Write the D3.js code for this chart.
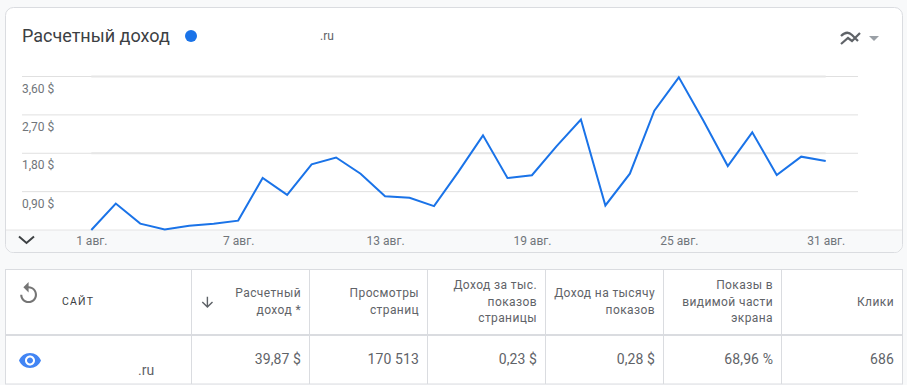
<!DOCTYPE html>
<html>
<head>
<meta charset="utf-8">
<script src="https://cdn.jsdelivr.net/npm/d3@7"></script>
<style>
  html, body { margin: 0; padding: 0; background: #f8f9fa; overflow: hidden; }
  svg { display: block; font-family: Roboto, sans-serif; }
</style>
</head>
<body>
<div id="app"></div>
<script>
'use strict'
// chart data
const days = d3.range(1, 32)
const revenue = [0, 0.62, 0.15, 0.01, 0.1, 0.145, 0.22, 1.22, 0.825, 1.54, 1.7, 1.32, 0.79, 0.755, 0.56, 1.37,
  2.22, 1.22, 1.285, 1.96, 2.59, 0.575, 1.32, 2.8, 3.58, 2.57, 1.5, 2.29, 1.29, 1.72, 1.62]
const yTicks = [0.9, 1.8, 2.7, 3.6]
const yTickLabels = ['0,90 $', '1,80 $', '2,70 $', '3,60 $']
const xTicks = [1, 7, 13, 19, 25, 31]

// table data
const columnEdges = [5.5, 191.5, 309.5, 427.5, 545.5, 663.5, 781.5, 902.5]
const headers = [
  ['Расчетный', 'доход *'],
  ['Просмотры', 'страниц'],
  ['Доход за тыс.', 'показов', 'страницы'],
  ['Доход на тысячу', 'показов'],
  ['Показы в', 'видимой части', 'экрана'],
  ['Клики']
]
const rowValues = ['39,87 $', '170 513', '0,23 $', '0,28 $', '68,96 %', '686']

const width = 907
const height = 385
const svg = d3.select('#app').append('svg')
  .attr('width', width)
  .attr('height', height)

// card
svg.append('rect')
  .attr('x', 5.5).attr('y', 7.5)
  .attr('width', 897).attr('height', 245)
  .attr('rx', 8)
  .attr('fill', '#fff')
  .attr('stroke', '#dadce0')

// strip under the plot, same grey as the page
svg.append('path')
  .attr('d', 'M6 230H902V244.5a7.5 7.5 0 0 1 -7.5 7.5H13.5a7.5 7.5 0 0 1 -7.5 -7.5Z')
  .attr('fill', '#f8f9fa')

svg.append('text')
  .attr('x', 22).attr('y', 42)
  .attr('font-size', 18)
  .attr('fill', '#3c4043')
  .text('Расчетный доход')
svg.append('circle')
  .attr('cx', 191).attr('cy', 36).attr('r', 6)
  .attr('fill', '#1a73e8')
svg.append('text')
  .attr('x', 320).attr('y', 40)
  .attr('font-size', 12)
  .attr('fill', '#5f6368')
  .text('.ru')

const x = d3.scaleLinear().domain([1, 31]).range([91.3, 825.7])
const y = d3.scaleLinear().domain([0, 3.6]).range([229.5, 76])

// y axis, labels sit under their gridline
const yAxis = svg.append('g')
  .attr('transform', 'translate(22,0)')
  .call(d3.axisRight(y).tickValues(yTicks).tickSize(836).tickFormat((d, i) => yTickLabels[i]))
yAxis.select('.domain').remove()
yAxis.selectAll('line').attr('stroke', '#e0e0e0')
yAxis.selectAll('text')
  .attr('x', 0).attr('dy', 16)
  .attr('font-family', 'Roboto, sans-serif')
  .attr('font-size', 12)
  .attr('fill', '#70757a')
  .style('text-anchor', 'start')

// heavier gridline segments inside the data range
yAxis.selectAll('.tick')
  .filter(d => d === 3.6 || d === 1.8)
  .append('line')
  .attr('x1', x(1) - 22).attr('x2', x(31) - 22)
  .attr('stroke', '#e6e6e6')
  .attr('stroke-width', 2)

// baseline and x axis
svg.append('line')
  .attr('x1', 6).attr('x2', 902)
  .attr('y1', 230).attr('y2', 230)
  .attr('stroke', '#e4e4e4')

const xAxis = svg.append('g')
  .attr('transform', 'translate(0,230)')
  .call(d3.axisBottom(x).tickValues(xTicks).tickSize(0).tickFormat(d => d + ' авг.'))
xAxis.select('.domain').remove()
xAxis.selectAll('text')
  .attr('y', 15).attr('dy', 0)
  .attr('font-family', 'Roboto, sans-serif')
  .attr('font-size', 12)
  .attr('fill', '#70757a')

const line = d3.line()
  .x((d, i) => x(days[i]))
  .y(d => y(d))
svg.append('path')
  .datum(revenue)
  .attr('d', line)
  .attr('transform', 'translate(0,0.5)')
  .attr('fill', 'none')
  .attr('stroke', '#1a73e8')
  .attr('stroke-width', 2)

// chevron under the plot
svg.append('path')
  .attr('d', 'M19 236.5L26.5 243L34 236.5')
  .attr('fill', 'none')
  .attr('stroke', '#3c4043')
  .attr('stroke-width', 2)

// chart type icon and caret
svg.append('path')
  .attr('d', 'M841 36C845 32 849 32 852 35L858 41M841 44L848 38L852 41L860 33')
  .attr('fill', 'none')
  .attr('stroke', '#5f6368')
  .attr('stroke-width', 2.2)
svg.append('path')
  .attr('d', 'M869 36H879L874 41Z')
  .attr('fill', '#9aa0a6')

// table
const table = svg.append('g')
table.append('rect')
  .attr('x', 5.5).attr('y', 269.5)
  .attr('width', 897).attr('height', 114.5)
  .attr('fill', '#fff')
  .attr('stroke', '#dadce0')
table.selectAll('line.col')
  .data(columnEdges.slice(1, -1))
  .enter().append('line')
  .attr('class', 'col')
  .attr('x1', d => d).attr('x2', d => d)
  .attr('y1', 269.5).attr('y2', 384)
  .attr('stroke', '#dadce0')
table.append('line')
  .attr('x1', 5.5).attr('x2', 902.5)
  .attr('y1', 335).attr('y2', 335)
  .attr('stroke', '#dadce0')
  .attr('stroke-width', 2)

table.append('text')
  .attr('x', 62).attr('y', 305)
  .attr('font-size', 10.5)
  .attr('font-weight', 400)
  .attr('letter-spacing', 1.2)
  .attr('fill', '#3c4043')
  .text('САЙТ')

const headerCells = table.selectAll('text.head')
  .data(headers)
  .enter().append('text')
  .attr('class', 'head')
  .attr('text-anchor', 'end')
  .attr('font-size', 12)
  .attr('letter-spacing', 0.4)
  .attr('fill', '#5f6368')
headerCells.selectAll('tspan')
  .data((d, i) => d.map((t, k) => ({ t, k, n: d.length, right: columnEdges[i + 2] - 8.5 })))
  .enter().append('tspan')
  .attr('x', d => d.right)
  .attr('y', d => 305.5 - (d.n - 1) * 8.25 + d.k * 16.5)
  .text(d => d.t)

table.selectAll('text.val')
  .data(rowValues)
  .enter().append('text')
  .attr('class', 'val')
  .attr('x', (d, i) => columnEdges[i + 2] - 8.5)
  .attr('y', 364)
  .attr('text-anchor', 'end')
  .attr('font-size', 14)
  .attr('letter-spacing', 0.1)
  .attr('fill', '#5f6368')
  .text(d => d)

table.append('text')
  .attr('x', 138).attr('y', 375)
  .attr('font-size', 14)
  .attr('fill', '#5f6368')
  .text('.ru')

// replay, eye and sort arrow, material icon outlines
table.append('path')
  .attr('d', 'M12 5V1L7 6l5 5V7c3.31 0 6 2.69 6 6s-2.69 6-6 6-6-2.69-6-6H4c0 4.42 3.58 8 8 8s8-3.58 8-8-3.58-8-8-8z')
  .attr('transform', 'translate(16,281) scale(1.05)')
  .attr('fill', '#757575')
table.append('path')
  .attr('d', 'M12 4.5C7 4.5 2.73 7.61 1 12c1.73 4.39 6 7.5 11 7.5s9.27-3.11 11-7.5c-1.73-4.39-6-7.5-11-7.5zM12 17c-2.76 0-5-2.24-5-5s2.24-5 5-5 5 2.24 5 5-2.24 5-5 5zm0-8c-1.66 0-3 1.34-3 3s1.34 3 3 3 3-1.34 3-3-1.34-3-3-3z')
  .attr('transform', 'translate(18,348.5)')
  .attr('fill', '#4285f4')
table.append('path')
  .attr('d', 'M20 12l-1.41-1.41L13 16.17V4h-2v12.17l-5.58-5.59L4 12l8 8 8-8z')
  .attr('transform', 'translate(199,294) scale(0.7)')
  .attr('fill', '#5f6368')
</script>
</body>
</html>
